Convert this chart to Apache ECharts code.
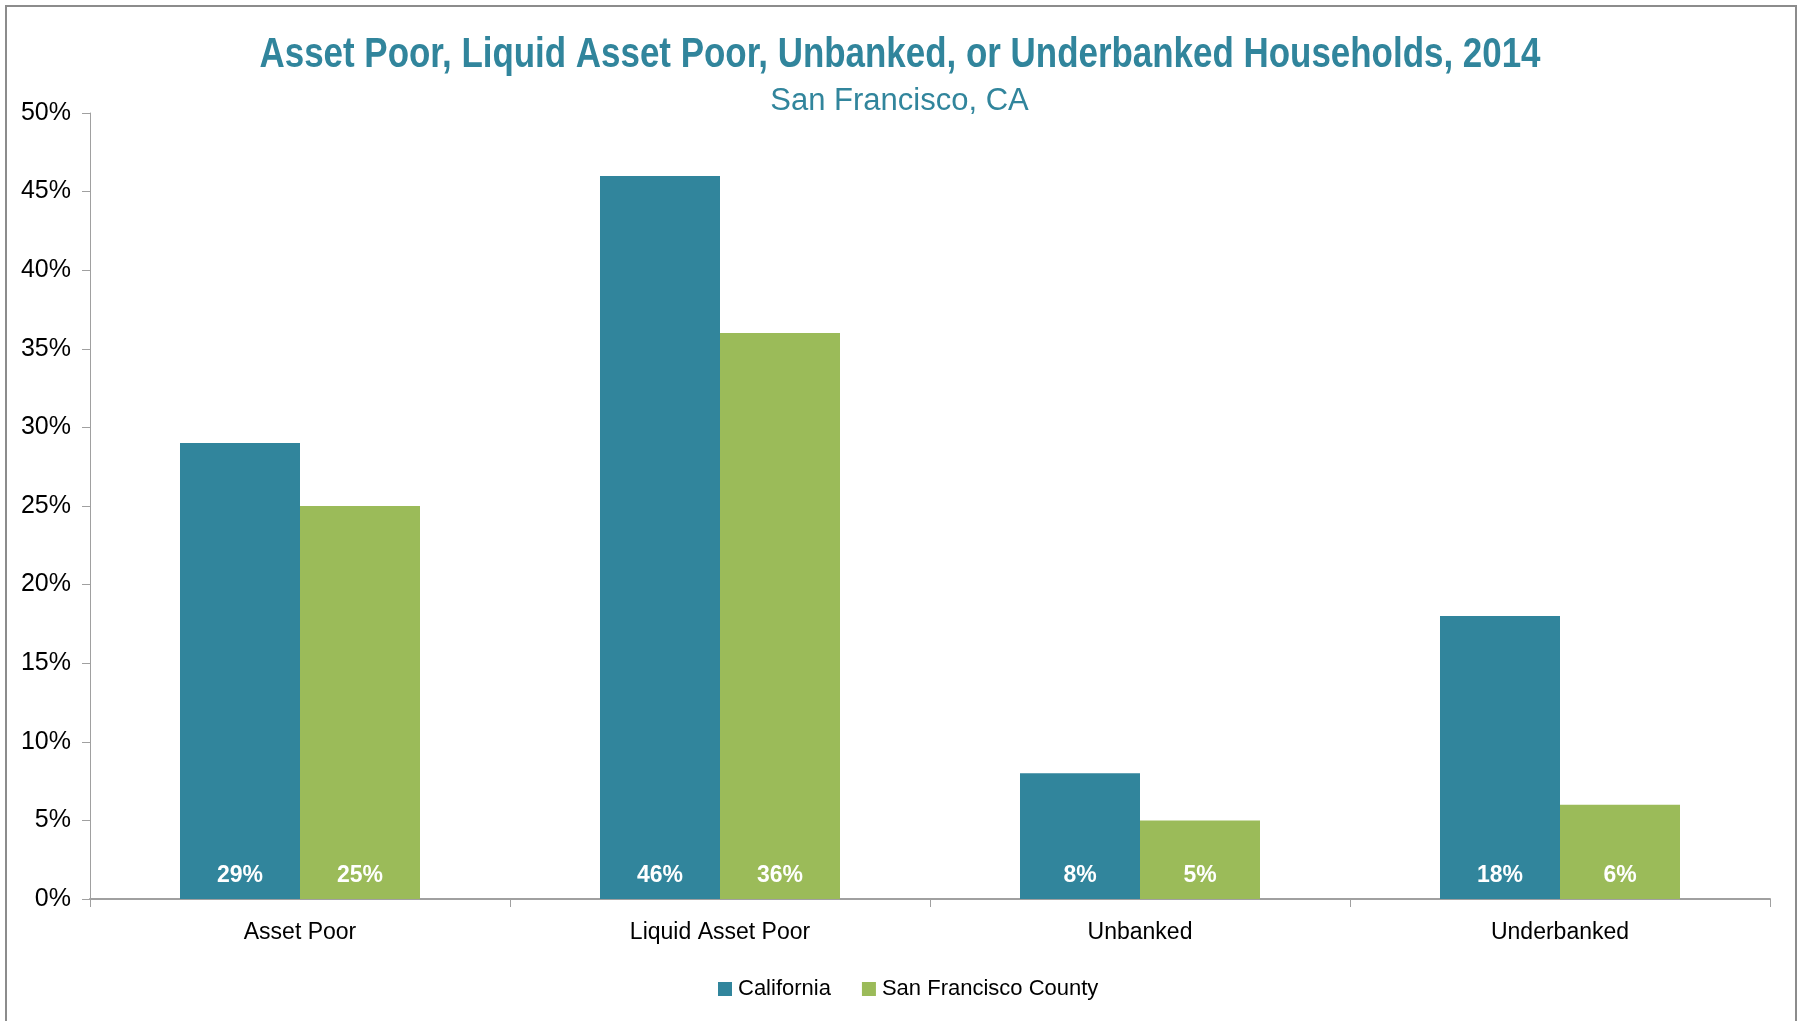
<!DOCTYPE html>
<html>
<head>
<meta charset="utf-8">
<script src="https://cdn.jsdelivr.net/npm/echarts@6/dist/echarts.min.js"></script>
<style>
  html, body { margin: 0; padding: 0; background: #ffffff; }
  #chart { width: 1799px; height: 1021px; }
</style>
</head>
<body>
<div id="chart"></div>
<script>
const titleText = 'Asset Poor, Liquid Asset Poor, Unbanked, or Underbanked Households, 2014';
const subtitleText = 'San Francisco, CA';
const categories = ['Asset Poor', 'Liquid Asset Poor', 'Unbanked', 'Underbanked'];
const seriesNames = ['California', 'San Francisco County'];
const californiaValues = [29, 46, 8, 18];
const sanFranciscoValues = [25, 36, 5, 6];
const yMin = 0, yMax = 50, yInterval = 5;

const TEAL = '#31859C';
const GREEN = '#9BBB59';
const sans = '"Liberation Sans", Arial, sans-serif';

// condensed title: measure regular bold width, then squeeze horizontally
const TITLE_SIZE = 43;
const TITLE_TARGET_WIDTH = 1281;
const mctx = document.createElement('canvas').getContext('2d');
mctx.font = 'bold ' + TITLE_SIZE + 'px "Liberation Sans", Arial, sans-serif';
const titleMeasured = mctx.measureText(titleText).width || 1600;
const titleScale = TITLE_TARGET_WIDTH / titleMeasured;

const chart = echarts.init(document.getElementById('chart'), null, { renderer: 'canvas' });

const labelStyle = {
  show: true,
  position: 'insideBottom',
  distance: 12,
  color: '#ffffff',
  fontFamily: sans,
  fontWeight: 'bold',
  fontSize: 23,
  formatter: p => p.value + '%'
};

chart.setOption({
  backgroundColor: '#ffffff',
  animation: false,
  title: [
    {
      text: subtitleText,
      left: 'center',
      top: 81,
      textStyle: { color: TEAL, fontFamily: sans, fontWeight: 'normal', fontSize: 31 }
    }
  ],
  graphic: [
    {
      type: 'rect',
      silent: true,
      shape: { x: 6, y: 6, width: 1790, height: 1040 },
      style: { fill: 'none', stroke: '#8c8c8c', lineWidth: 2 }
    },
    {
      type: 'text',
      silent: true,
      x: 900,
      y: 55,
      scaleX: titleScale,
      scaleY: 1,
      style: {
        text: titleText,
        fill: TEAL,
        fontFamily: '"Liberation Sans", Arial, sans-serif',
        fontWeight: 'bold',
        fontSize: TITLE_SIZE,
        textAlign: 'center',
        textVerticalAlign: 'middle',
        align: 'center',
        verticalAlign: 'middle'
      }
    }
  ],
  legend: {
    data: seriesNames,
    left: 713,
    top: 973,
    icon: 'rect',
    itemWidth: 14,
    itemHeight: 14,
    itemGap: 31,
    textStyle: { color: '#000000', fontFamily: sans, fontSize: 22, padding: [0, 0, 0, 1] }
  },
  grid: { left: 90, right: 29, top: 113, bottom: 122, containLabel: false },
  xAxis: {
    type: 'category',
    data: categories,
    axisLine: { show: true, lineStyle: { color: '#a0a0a0', width: 2 } },
    axisTick: { show: true, length: 8, lineStyle: { color: '#a0a0a0', width: 1 } },
    axisLabel: { color: '#000000', fontFamily: sans, fontSize: 23, margin: 22 },
    splitLine: { show: false }
  },
  yAxis: {
    type: 'value',
    min: yMin,
    max: yMax,
    interval: yInterval,
    axisLine: { show: true, lineStyle: { color: '#a0a0a0', width: 1 } },
    axisTick: { show: true, inside: false, length: 8, lineStyle: { color: '#a0a0a0', width: 1 } },
    axisLabel: { color: '#000000', fontFamily: sans, fontSize: 25, margin: 19, formatter: '{value}%' },
    splitLine: { show: false }
  },
  series: [
    {
      name: seriesNames[0],
      type: 'bar',
      data: californiaValues,
      barGap: '0%',
      barCategoryGap: '42.857%',
      itemStyle: { color: TEAL },
      label: labelStyle
    },
    {
      name: seriesNames[1],
      type: 'bar',
      data: sanFranciscoValues,
      barGap: '0%',
      barCategoryGap: '42.857%',
      itemStyle: { color: GREEN },
      label: labelStyle
    }
  ]
});
</script>
</body>
</html>
